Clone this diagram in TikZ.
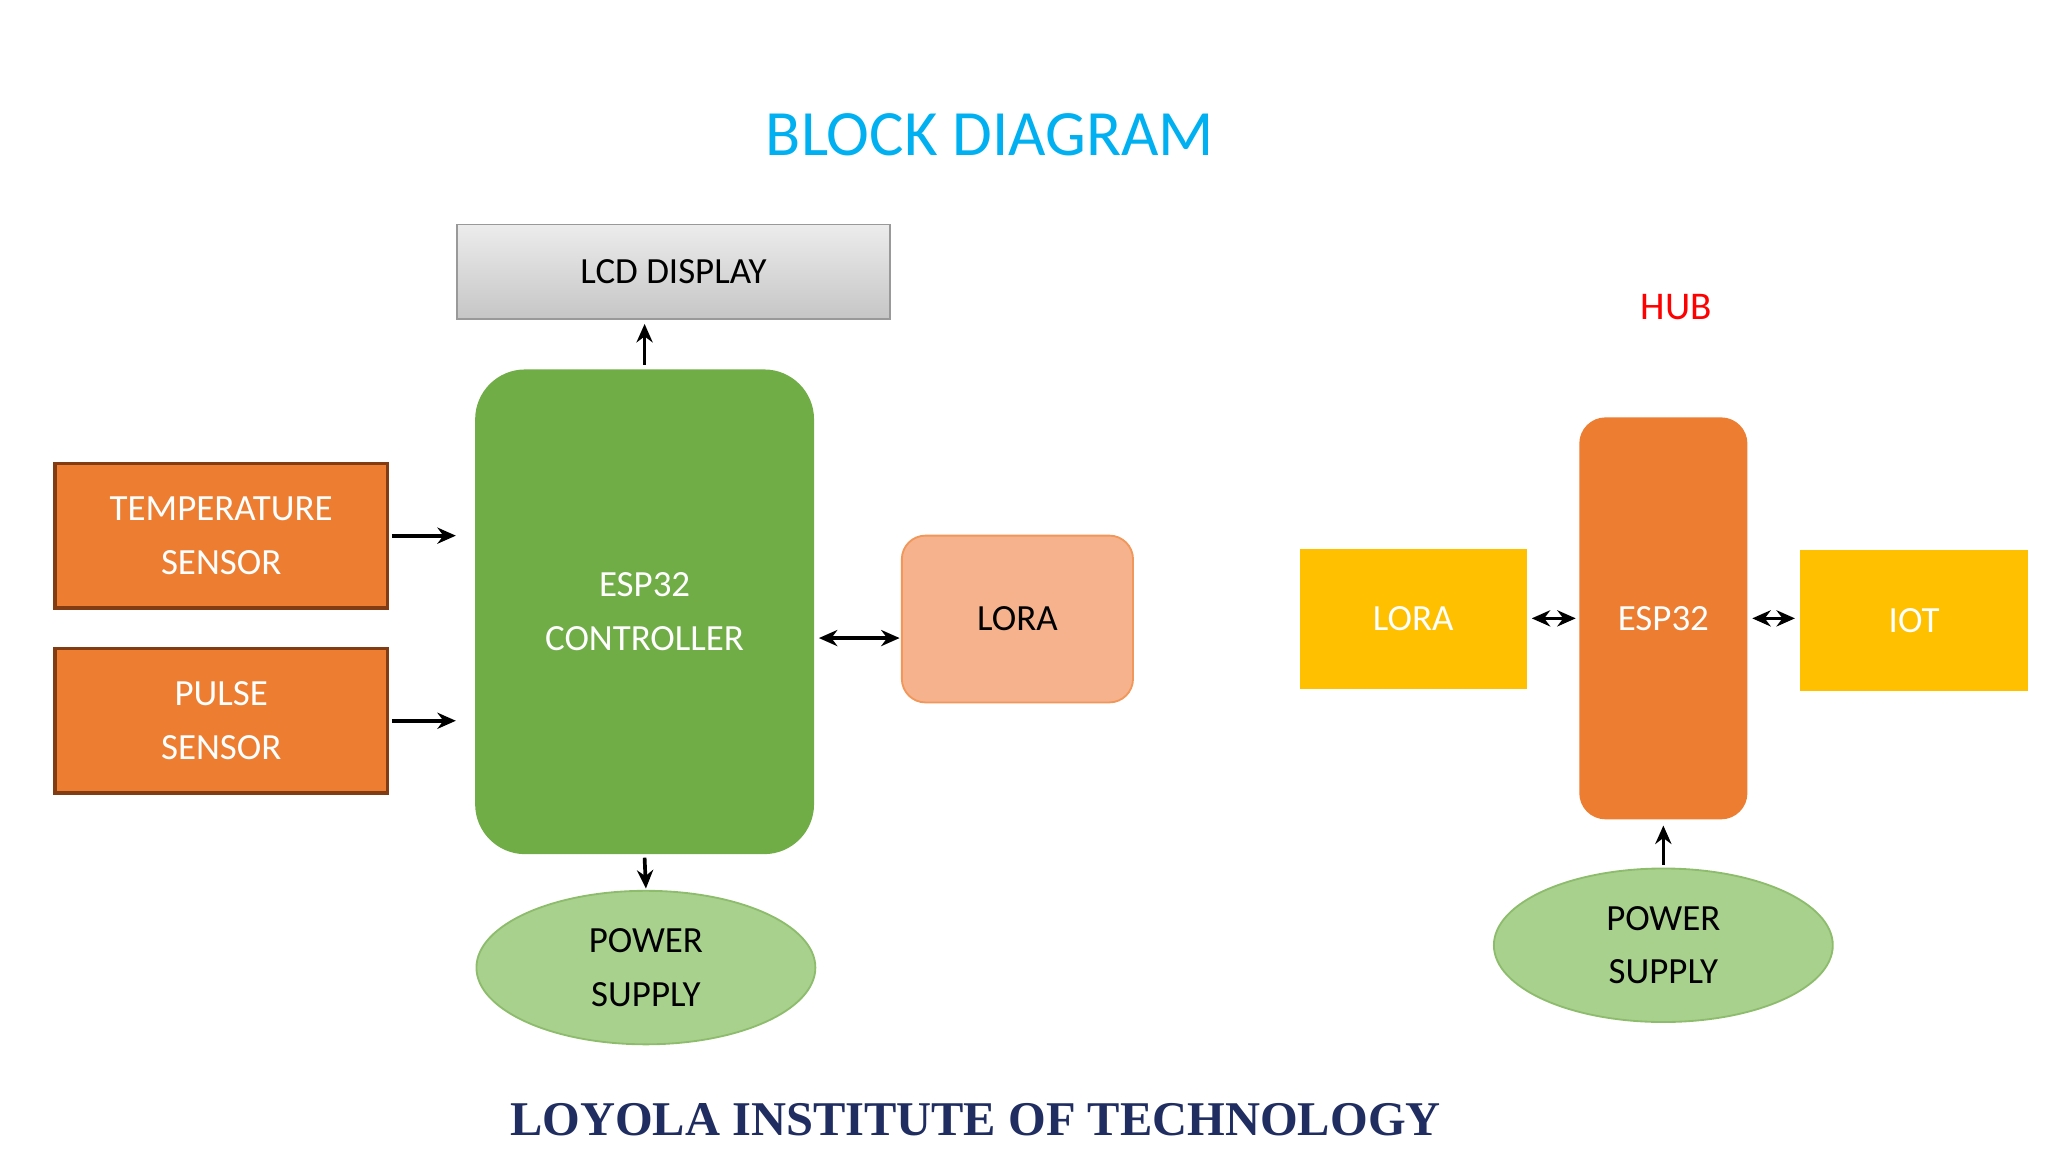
\documentclass[tikz,border=0pt]{standalone}
\usepackage{fontspec}
\setmainfont{Carlito}
\newfontfamily\serifb{Liberation Serif}
\usetikzlibrary{shapes.geometric,arrows.meta,calc}
\definecolor{ttl}{RGB}{0,176,240}
\definecolor{grn}{RGB}{112,173,71}
\definecolor{org}{RGB}{237,125,49}
\definecolor{orgd}{RGB}{130,60,20}
\definecolor{sal}{RGB}{246,178,140}
\definecolor{lgrn}{RGB}{169,209,142}
\definecolor{yel}{RGB}{255,192,0}
\definecolor{navy}{RGB}{31,45,96}
\begin{document}
\begin{tikzpicture}[x=0.01cm,y=-0.01cm,
  txt/.style={font=\fontsize{8}{9.6}\selectfont,align=center},
  wtxt/.style={txt,text=white},
  box/.style={draw=none,minimum width=#1,inner sep=0},
  arr/.style={-{Stealth[length=4pt,width=3.5pt]},line width=0.8pt},
  darr/.style={{Stealth[length=4pt,width=3.5pt]}-{Stealth[length=4pt,width=3.5pt]},line width=0.8pt}]
\useasboundingbox (0,0) rectangle (1560,877.5);
\node[font=\fontsize{14}{16}\selectfont,text=ttl] (title) at (754,103) {BLOCK DIAGRAM};
\node[txt,draw=gray!80,top color=gray!15,bottom color=gray!45,minimum width=3.3cm,minimum height=0.72cm] (lcd) at (513,207) {LCD DISPLAY};
\node[wtxt,fill=grn,rounded corners=0.38cm,minimum width=2.58cm,minimum height=3.69cm] (esp) at (491,466) {ESP32\\[2pt]CONTROLLER};
\node[wtxt,fill=org,draw=orgd,line width=0.8pt,minimum width=2.53cm,minimum height=1.1cm] (temp) at (168.5,408) {TEMPERATURE\\[2pt]SENSOR};
\node[wtxt,fill=org,draw=orgd,line width=0.8pt,minimum width=2.53cm,minimum height=1.1cm] (pulse) at (168.5,549) {PULSE\\[2pt]SENSOR};
\node[txt,fill=sal,draw=org!80,rounded corners=0.18cm,minimum width=1.76cm,minimum height=1.27cm] (lora) at (775,471.5) {LORA};
\node[txt,ellipse,fill=lgrn,draw=grn!80,minimum width=2.58cm,minimum height=1.1cm] (ps) at (492,737) {POWER\\[2pt]SUPPLY};
\draw[arr] ($(temp.east)+(2,0)$) -- ($(esp.west |- temp.east)+(-14,0)$);
\draw[arr] ($(pulse.east)+(2,0)$) -- ($(esp.west |- pulse.east)+(-14,0)$);
\draw[arr] ($(esp.north)+(0,-3)$) -- ($(lcd.south -| esp.north)+(0,3)$);
\draw[darr] ($(esp.east)+(3,20)$) -- ($(lora.west)+(-1,14.5)$);
\draw[arr] ($(esp.south)+(0,2)$) -- ($(ps.north)+(0,-1)$);
\node[font=\fontsize{8.5}{10}\selectfont,text=red] (hub) at (1277,234) {HUB};
\node[wtxt,fill=org,rounded corners=0.2cm,minimum width=1.28cm,minimum height=3.06cm] (esp2) at (1267,471) {ESP32};
\node[wtxt,fill=yel,minimum width=1.73cm,minimum height=1.07cm] (lora2) at (1076.5,471.5) {LORA};
\node[wtxt,fill=yel,minimum width=1.74cm,minimum height=1.07cm] (iot) at (1458,472.5) {IOT};
\node[txt,ellipse,fill=lgrn,draw=grn!80,minimum width=2.58cm,minimum height=1.1cm] (ps2) at (1267,720) {POWER\\[2pt]SUPPLY};
\draw[darr] ($(lora2.east)+(3,-0.5)$) -- ($(esp2.west)+(-2,0)$);
\draw[darr] ($(esp2.east)+(3,0)$) -- ($(iot.west)+(-3,-1.5)$);
\draw[arr] ($(ps2.north)+(0,-2)$) -- ($(esp2.south)+(0,4)$);
\node[font=\serifb\bfseries\fontsize{10.5}{12}\selectfont,text=navy] (foot) at (743,853) {LOYOLA INSTITUTE OF TECHNOLOGY};
\end{tikzpicture}
\end{document}
